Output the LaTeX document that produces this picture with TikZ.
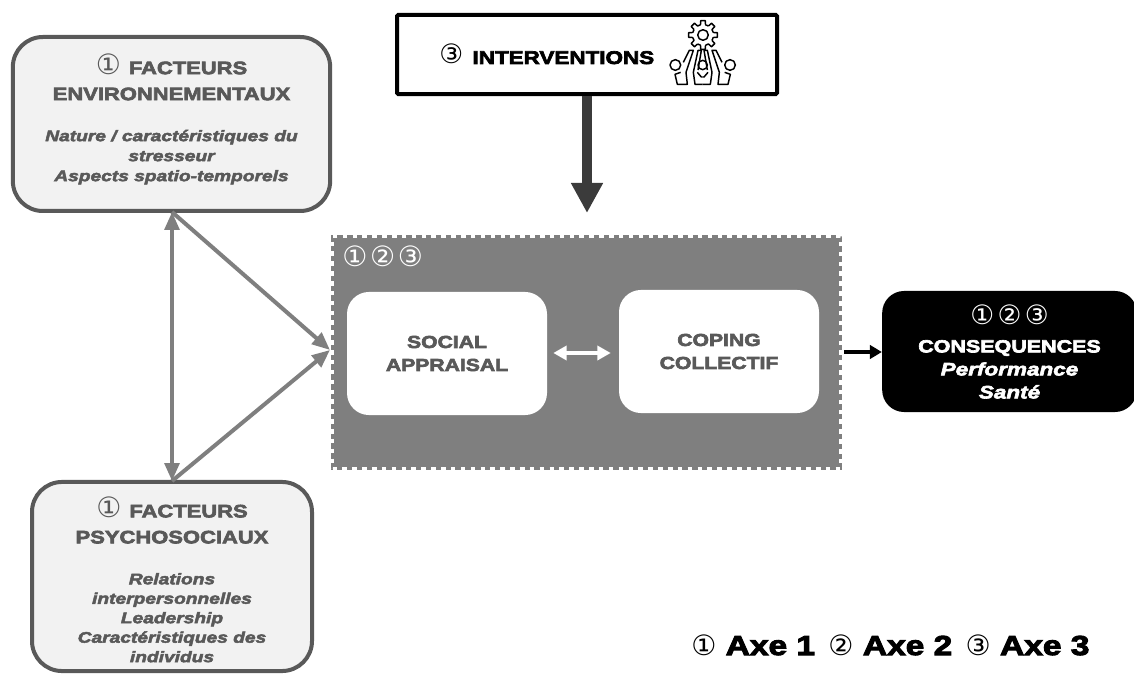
\documentclass[tikz,border=0pt]{standalone}
\usepackage{fontspec}
\setmainfont{Liberation Sans}
\newfontfamily\blk[FakeBold=3.6,FakeStretch=1.22,UprightFont={* Bold}]{Liberation Sans}
\newfontfamily\blki[FakeBold=3.2,FakeStretch=1.25,UprightFont={* Bold Italic}]{Liberation Sans}
\newfontfamily\dgfont{DejaVu Sans}
\newcommand{\dgt}[2]{{\dgfont\fontsize{#1}{#1}\selectfont #2}}
\newcommand{\ttl}[2]{{\blk\fontsize{#1}{#1}\selectfont #2}}
\newcommand{\itl}[2]{{\blki\fontsize{#1}{#1}\selectfont #2}}
\usetikzlibrary{arrows.meta,calc}
\definecolor{boxgray}{HTML}{595959}
\definecolor{boxfill}{HTML}{F2F2F2}
\definecolor{midgray}{HTML}{7F7F7F}
\definecolor{arrowdark}{HTML}{3B3B3B}
\tikzset{
  x=0.75pt,y=-0.75pt,
  facteur/.style={draw=boxgray,fill=boxfill,line width=3pt,rounded corners=22.5pt,inner sep=0pt,align=center,text=boxgray},
  whitebox/.style={fill=white,rounded corners=16.5pt,inner sep=0pt,align=center,text=boxgray,font=\fontsize{10}{17.25}\selectfont},
  grayarrow/.style={draw=midgray,line width=3pt},
  gtip/.tip={Triangle[length=13.5pt,width=11pt]},
}
\begin{document}
\begin{tikzpicture}
\useasboundingbox (0,0) rectangle (1134,684);
% panel
\node (panel) [fill=midgray,draw=midgray,line width=1.8pt,postaction={draw=white,line width=1.8pt,dash pattern=on 3.4pt off 4pt},minimum width=381pt,minimum height=174pt,inner sep=0pt] at (586.5,352.5) {};
\node (panelnum) [text=white,anchor=west,inner sep=0pt] at (342,256) {\dgt{21}{①\kern2pt②\kern2pt③}};
% inner boxes
\node (social) [whitebox,minimum width=150pt,minimum height=92.3pt] at (447,353.5) {\ttl{13}{SOCIAL}\\\ttl{13}{APPRAISAL}};
\node (coping) [whitebox,minimum width=150pt,minimum height=92.3pt] at (719,351.5) {\ttl{13}{COPING}\\\ttl{13}{COLLECTIF}};
% conseq
\node (conseq) [fill=black,text=white,rounded corners=16.5pt,inner sep=0pt,align=center,minimum width=191pt,minimum height=90.8pt,font=\fontsize{10}{17.25}\selectfont] at (1009.5,351.5) {%
\dgt{20}{①\kern2.5pt②\kern2.5pt③}\\[4pt]
\ttl{13.2}{CONSEQUENCES}\\
\itl{13.5}{Performance}\\
\itl{13.5}{Santé}};
% env
\node (env) [facteur,minimum width=238pt,minimum height=130.5pt,font=\fontsize{10}{15}\selectfont] at (171.5,124) {%
\dgt{21}{①}\kern6pt\ttl{13.5}{FACTEURS}\\[4.5pt]
\ttl{13.5}{ENVIRONNEMENTAUX}\\[15.75pt]
\itl{11.5}{Nature / caractéristiques du}\\
\itl{11.5}{stresseur}\\
\rule[-10pt]{0pt}{10pt}\itl{11.5}{Aspects spatio-temporels}};
% psy
\node (psy) [facteur,minimum width=210pt,minimum height=141.8pt,font=\fontsize{10}{14.6}\selectfont] at (172,576.5) {%
\rule{0pt}{20pt}\dgt{21}{①}\kern6pt\ttl{13.5}{FACTEURS}\\[4.9pt]
\ttl{13.5}{PSYCHOSOCIAUX}\\[16.1pt]
\itl{11.5}{Relations}\\
\itl{11.5}{interpersonnelles}\\
\itl{11.5}{Leadership}\\
\itl{11.5}{Caractéristiques des}\\
\itl{11.5}{individus}};
% interventions
\node (interv) [draw=black,fill=white,line width=3pt,rounded corners=1pt,minimum width=285pt,minimum height=59.3pt,inner sep=0pt] at (587,54.5) {};
\node (intervtxt) [anchor=base west,inner sep=0pt] at (439,64) {\dgt{20}{③}\kern7pt\ttl{13.8}{INTERVENTIONS}};
% icon
\begin{scope}[shift={(703,35)},line width=1.1pt,draw=black,line join=round]
  \draw (0,0) circle (5.3);
  \foreach \a in {0,45,...,315}{
    \draw (\a-14:10.5) -- (\a-9:14.5) -- (\a+9:14.5) -- (\a+14:10.5) -- (\a+31:10.5);
  }
\end{scope}
\begin{scope}[shift={(660,15)},x=0.25pt,y=-0.25pt,line width=1.1pt,draw=black,line join=round]
  \draw (128,150) circle (14);
  \foreach \m in {1,-1}{
    \begin{scope}[shift={(128,0)},xscale=\m,shift={(-128,0)}]
      \draw (46,150) circle (16);
      \draw (70,142) -- (88,106) -- (100,106) -- (78,172) -- (82,208) -- (52,208) -- (45,178) -- (62,172);
      \draw (128,208) -- (105,208) -- (100,172) -- (114,106) -- (124,106) -- (114,165);
      \draw (112,172) -- (124,186) -- (128,186);
    \end{scope}
  }
\end{scope}
% connectors
\coordinate (tipdown) at (587,213);
\coordinate (envp) at (172,212);
\coordinate (psyp) at (172,481);
\coordinate (panelp) at (330,350);
\draw[line width=7.5pt,draw=arrowdark,-{Triangle[length=22.5pt,width=22.5pt]}] (interv.south) -- (tipdown);
\draw[grayarrow,{gtip}-{gtip}] (envp) -- (psyp);
\draw[grayarrow,-{gtip}] (envp) -- (panelp);
\draw[grayarrow,-{gtip}] (psyp) -- (panelp);
\draw[white,line width=2.6pt,{Triangle[length=10pt,width=10.5pt]}-{Triangle[length=10pt,width=10.5pt]}] (social.east) ++(6,-0.5) -- ($(coping.west)+(-8,1.5)$);
\draw[black,line width=3pt,-{Triangle[length=9pt,width=10pt]}] (844,352) -- (conseq.west |- 0,352);
% legend
\node (legend) [anchor=base west,inner sep=0pt] at (691,655) {\dgt{21}{①}\kern7pt\ttl{20.6}{Axe 1}\kern10pt\dgt{21}{②}\kern7pt\ttl{20.6}{Axe 2}\kern10pt\dgt{21}{③}\kern7pt\ttl{20.6}{Axe 3}};
\end{tikzpicture}
\end{document}
